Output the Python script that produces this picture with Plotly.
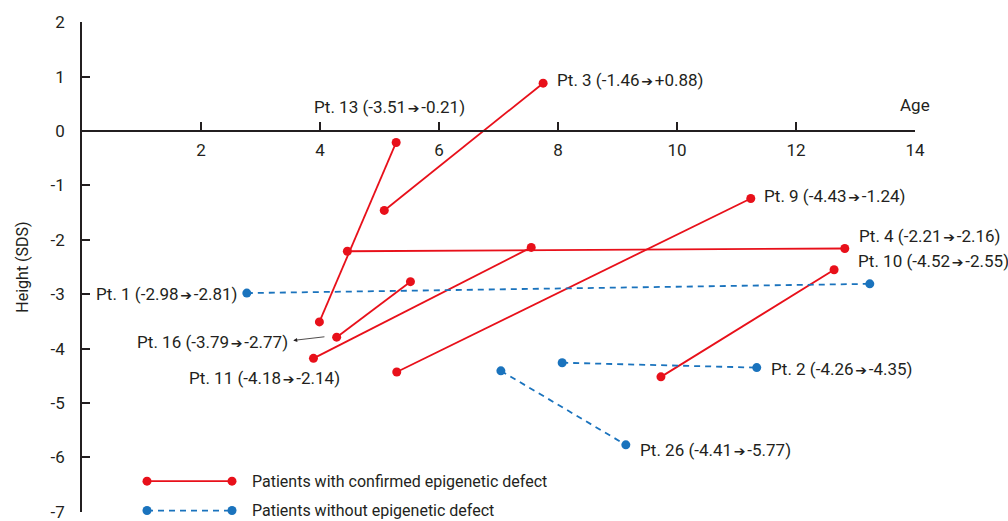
import plotly.graph_objects as go

# ---- data (age in years, height SDS) ----
conf_patients = ["Pt. 3", "Pt. 13", "Pt. 4", "Pt. 9", "Pt. 10", "Pt. 16", "Pt. 11"]
conf_age_start = [5.08, 3.99, 4.46, 5.29, 9.73, 4.28, 3.89]
conf_age_end = [7.75, 5.28, 12.82, 11.24, 12.64, 5.52, 7.55]
conf_sds_start = [-1.46, -3.51, -2.21, -4.43, -4.52, -3.79, -4.18]
conf_sds_end = [0.88, -0.21, -2.16, -1.24, -2.55, -2.77, -2.14]

non_patients = ["Pt. 1", "Pt. 2", "Pt. 26"]
non_age_start = [2.77, 8.07, 7.04]
non_age_end = [13.24, 11.34, 9.14]
non_sds_start = [-2.98, -4.26, -4.41]
non_sds_end = [-2.81, -4.35, -5.77]

x_ticks = [2, 4, 6, 8, 10, 12, 14]
y_ticks = [-7, -6, -5, -4, -3, -2, -1, 0, 1, 2]

# label anchor positions (data coords) and alignment
label_pos = {
    "Pt. 3": (7.95, 0.94, "left"),
    "Pt. 13": (3.87, 0.44, "left"),
    "Pt. 9": (11.43, -1.19, "left"),
    "Pt. 4": (13.03, -1.93, "left"),
    "Pt. 10": (13.0, -2.39, "left"),
    "Pt. 1": (2.66, -2.99, "right"),
    "Pt. 16": (3.50, -3.87, "right"),
    "Pt. 11": (4.37, -4.55, "right"),
    "Pt. 2": (11.55, -4.37, "left"),
    "Pt. 26": (9.34, -5.87, "left"),
}

RED = "#e8101a"
BLUE = "#1a73bd"
TXT = "#231f20"
FONT = "Roboto, sans-serif"
FS = 17

fig = go.Figure()

for i, p in enumerate(conf_patients):
    fig.add_trace(go.Scatter(
        x=[conf_age_start[i], conf_age_end[i]],
        y=[conf_sds_start[i], conf_sds_end[i]],
        mode="lines+markers",
        line=dict(color=RED, width=1.8),
        marker=dict(color=RED, size=9),
        showlegend=False, hoverinfo="skip"))

for i, p in enumerate(non_patients):
    fig.add_trace(go.Scatter(
        x=[non_age_start[i], non_age_end[i]],
        y=[non_sds_start[i], non_sds_end[i]],
        mode="lines+markers",
        line=dict(color=BLUE, width=1.8, dash="6px,5px"),
        marker=dict(color=BLUE, size=9),
        showlegend=False, hoverinfo="skip"))

annotations = []

def fmt(v, plus=False):
    s = f"{v:.2f}"
    if plus and v > 0:
        s = "+" + s
    return s

ARROW = "\u200a<span style='font-size:14px;font-family:DejaVu Sans'>\u2794</span>\u200a"
all_p = conf_patients + non_patients
all_s = conf_sds_start + non_sds_start
all_e = conf_sds_end + non_sds_end
for p, s, e in zip(all_p, all_s, all_e):
    x, y, anchor = label_pos[p]
    txt = f"{p} ({fmt(s)}{ARROW}{fmt(e, plus=True)})"
    annotations.append(dict(x=x, y=y, xref="x", yref="y", text=txt, showarrow=False,
                            xanchor=anchor, yanchor="middle",
                            font=dict(family=FONT, size=FS, color=TXT)))

# small pointer arrow for Pt. 16
annotations.append(dict(x=3.55, y=-3.85, ax=4.10, ay=-3.78, xref="x", yref="y",
                        axref="x", ayref="y", text="", showarrow=True,
                        arrowhead=2, arrowsize=1, arrowwidth=0.8, arrowcolor=TXT))

# Age label
annotations.append(dict(x=14, y=0, xref="x", yref="y", text="Age", showarrow=False,
                        xanchor="center", yanchor="bottom", yshift=14,
                        font=dict(family=FONT, size=FS, color=TXT)))

# custom legend
shapes = []
leg = [("Patients with confirmed epigenetic defect", RED, "solid", 0.063),
       ("Patients without epigenetic defect", BLUE, "6px,5px", 0.003)]
x0, x1 = (147 - 82) / 833, (232 - 82) / 833
for name, col, dash, yp in leg:
    shapes.append(dict(type="line", xref="paper", yref="paper", x0=x0, x1=x1, y0=yp, y1=yp,
                       line=dict(color=col, width=1.8, dash=dash)))
    for xc in (x0, x1):
        shapes.append(dict(type="circle", xref="paper", yref="paper",
                           xsizemode="pixel", ysizemode="pixel",
                           xanchor=xc, yanchor=yp, x0=-4.5, x1=4.5, y0=-4.5, y1=4.5,
                           fillcolor=col, line=dict(width=0)))
    annotations.append(dict(x=(250 - 82) / 833, y=yp, xref="paper", yref="paper",
                            text=name, showarrow=False, xanchor="left", yanchor="middle",
                            font=dict(family=FONT, size=16, color=TXT)))

fig.update_layout(
    width=1008, height=521,
    margin=dict(l=82, r=93, t=22, b=9),
    plot_bgcolor="white", paper_bgcolor="white",
    font=dict(family=FONT, size=FS, color=TXT),
    annotations=annotations, shapes=shapes,
    xaxis=dict(range=[0, 14], tickvals=x_ticks, ticktext=[str(v) for v in x_ticks],
               anchor="free", position=7 / 9, showline=True, linecolor="#231f20",
               linewidth=1.5, ticks="inside", ticklen=8, tickwidth=1.5,
               tickcolor="#231f20", showgrid=False, zeroline=False, automargin=False,
               ticklabelstandoff=4, tickfont=dict(size=FS), ticklabeloverflow="allow"),
    yaxis=dict(range=[-7.005, 2.005], tickvals=y_ticks, ticktext=[str(v) for v in y_ticks],
               showline=True, linecolor="#231f20", linewidth=1.5, ticks="inside",
               ticklen=8, tickwidth=1.5, tickcolor="#231f20", showgrid=False,
               zeroline=False, automargin=False, ticklabelstandoff=12,
               tickfont=dict(size=FS), ticklabeloverflow="allow",
               title=dict(text="Height (SDS)", standoff=18, font=dict(size=FS - 1))),
)

fig.write_html("out.html", config={"displayModeBar": False},
               post_script="document.body.style.margin='0px';document.body.style.overflow='hidden';")
